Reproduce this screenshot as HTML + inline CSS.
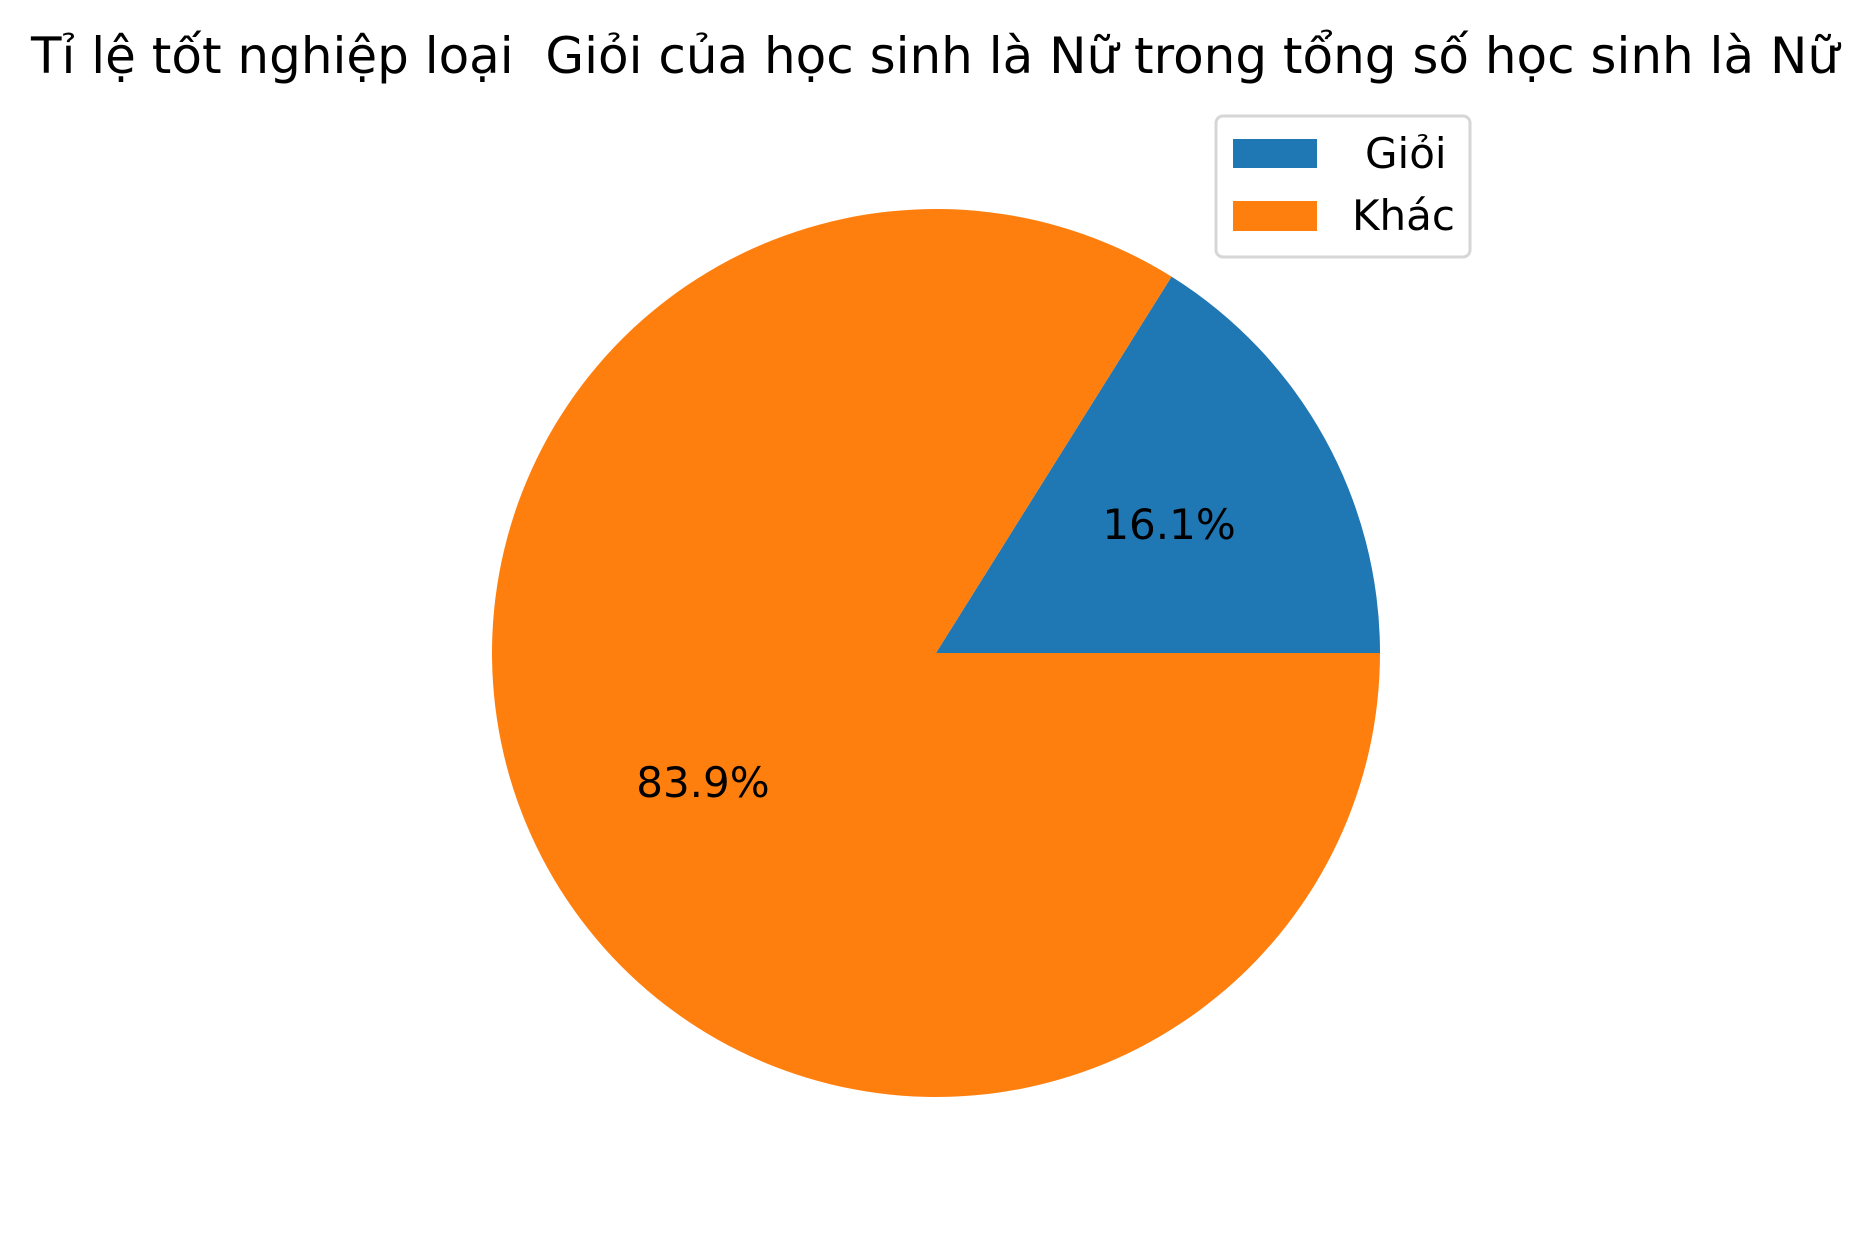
<!DOCTYPE html>
<html><head><meta charset="utf-8"><style>
html,body{margin:0;padding:0;background:#fff;}
svg{display:block;font-family:"DejaVu Sans","Liberation Sans",sans-serif;}
</style></head><body>
<svg id="chart" width="1870" height="1236" viewBox="0 0 1870 1236">
<text x="31" y="73" font-size="50" textLength="1808" lengthAdjust="spacingAndGlyphs" fill="#000">Tỉ lệ tốt nghiệp loại&#160; Giỏi của học sinh là Nữ trong tổng số học sinh là Nữ</text>
<g id="slices"></g>
<g>
<rect x="1216" y="116" width="254" height="141" rx="7" fill="#fff" fill-opacity="0.8" stroke="#d6d6d6" stroke-width="3"/>
<rect x="1233" y="139" width="84" height="29" fill="#1f77b4"/>
<text x="1365" y="168" font-size="42" fill="#000">Giỏi</text>
<rect x="1233" y="201" width="84" height="30" fill="#ff7f0e"/>
<text x="1352" y="230" font-size="42" fill="#000">Khác</text>
</g>
</svg>
<script>
const categories = ["Giỏi", "Khác"];
const values = [16.1, 83.9];
const colors = ["#1f77b4", "#ff7f0e"];
const cx = 936, cy = 653, R = 444;
const NS = "http://www.w3.org/2000/svg";
const g = document.getElementById("slices");
const total = values.reduce((a,b)=>a+b,0);
let start = 0;
values.forEach((v,i)=>{
  const frac = v/total;
  const a0 = start*2*Math.PI, a1 = (start+frac)*2*Math.PI;
  const x0 = cx + R*Math.cos(a0), y0 = cy - R*Math.sin(a0);
  const x1 = cx + R*Math.cos(a1), y1 = cy - R*Math.sin(a1);
  const large = frac > 0.5 ? 1 : 0;
  const p = document.createElementNS(NS,"path");
  p.setAttribute("d",`M${cx},${cy} L${x0},${y0} A${R},${R} 0 ${large} 0 ${x1},${y1} Z`);
  p.setAttribute("fill",colors[i]);
  
  
  g.appendChild(p);
  const am = (a0+a1)/2;
  const t = document.createElementNS(NS,"text");
  t.setAttribute("x", cx + 0.6*R*Math.cos(am));
  t.setAttribute("y", cy - 0.6*R*Math.sin(am) + 15);
  t.setAttribute("text-anchor","middle");
  t.setAttribute("font-size","42");
  t.textContent = (frac*100).toFixed(1) + "%";
  
  
  g.appendChild(t);
  start += frac;
});
</script>
</body></html>
